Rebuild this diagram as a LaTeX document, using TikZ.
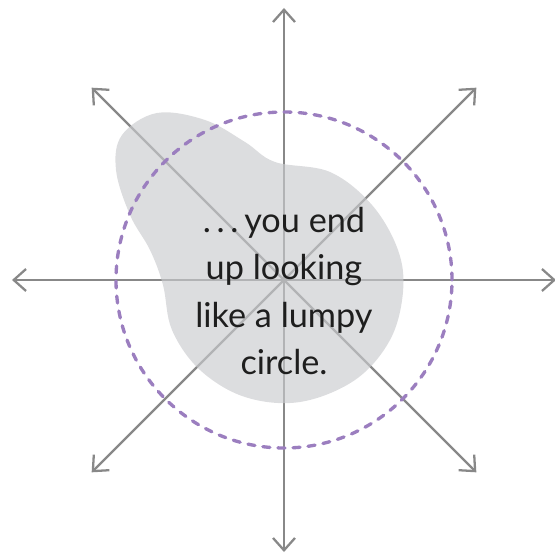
\documentclass[tikz,border=0pt]{standalone}
\usepackage{fontspec}
\setmainfont{Lato}
\usepackage{xcolor}
\usetikzlibrary{arrows.meta}
\definecolor{cRay}{HTML}{888888}
\definecolor{cBlob}{HTML}{CACBCE}
\definecolor{cRim}{HTML}{9B7EBF}
\definecolor{cInk}{HTML}{1E1E1E}

\begin{document}
\begin{tikzpicture}[x=0.02cm, y=0.02cm,
  >={Straight Barb[length=7pt,width=12.5pt,line width=1.3pt]},
  ray/.style={->, line width=1.3pt, draw=cRay},
  lump/.style={fill=cBlob, fill opacity=0.65, draw=none},
  rim/.style={draw=cRim, line width=1.9pt, line cap=round, dash pattern=on 4pt off 4.6pt},
  note/.style={align=center, text=cInk, font=\fontsize{19.5}{27}\selectfont},
]
\useasboundingbox (-284,-280) rectangle (270,280);

% =================== RAYS ===================
\coordinate (c) at (0,0);
\foreach \a in {0,45,...,315}{
  \coordinate (t\a) at (\a:272);
  \draw[ray] (c) -- (t\a);
}

% =================== LUMPY SHAPE ===================
\path[lump] plot[smooth cycle, tension=0.6] coordinates {
  (-127,167) (-79,160) (-39,138) (-9,118) (46,108) (88,75) (114,30)
  (119,-12) (106,-60) (71,-100) (16,-122) (-39,-117) (-84,-90)
  (-112,-50) (-121,-5) (-134,30) (-154,65) (-168,110) (-162,145)};

% dashed reference circle
\draw[rim] (c) circle[radius=168];

\node[note] (txt) at (0,-11) {.\,.\,.\,you end\\ up looking\\ like a lumpy\\ circle.};

\end{tikzpicture}
\end{document}
